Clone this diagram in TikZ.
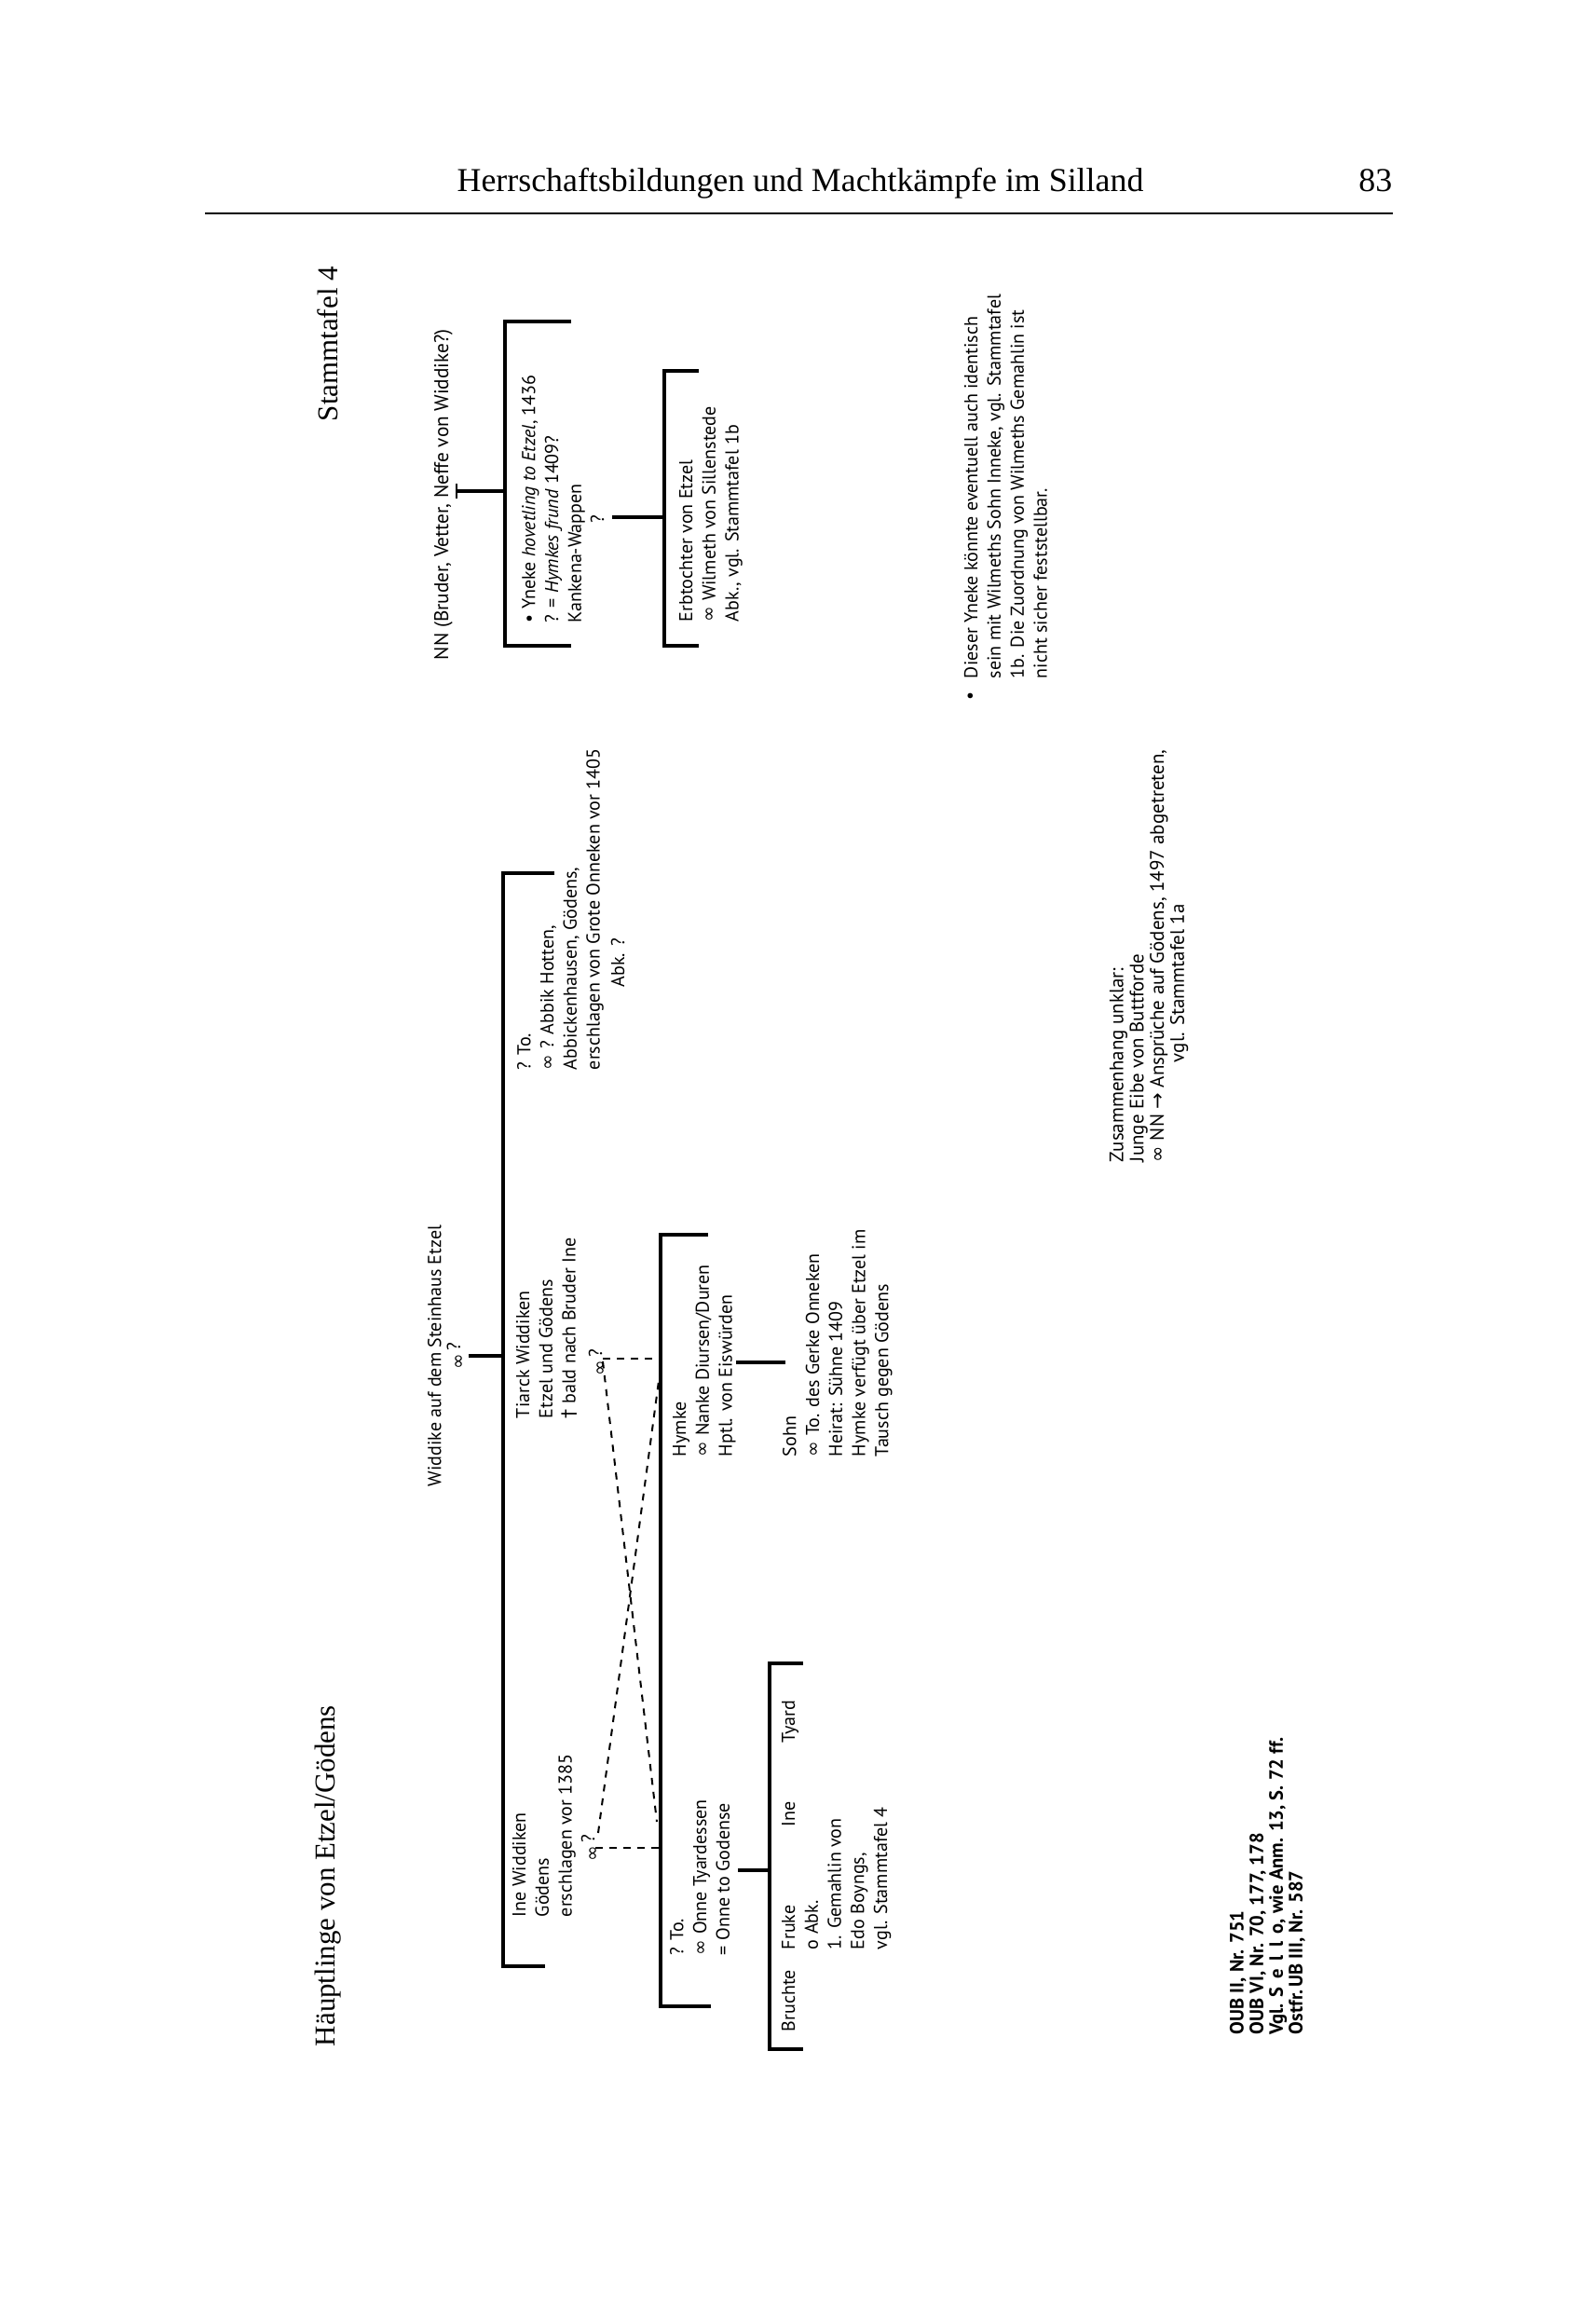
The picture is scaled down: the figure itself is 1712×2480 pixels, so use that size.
\documentclass[tikz,border=0pt]{standalone}
\usepackage{fontspec}
\setmainfont{Liberation Serif}
\newfontfamily\trf{PT Sans}
\newfontfamily\symf{DejaVu Sans}
\newcommand\xmar{{\symf ∞}}
\newcommand\xdg{{\symf †}}
\newcommand\xarr{{\symf →}}
\newcommand\tfont{\trf\fontsize{5.7}{7.05}\selectfont}
\newcommand\nfont{\trf\fontsize{6.05}{7}\selectfont}
\newcommand\zfont{\trf\fontsize{5.95}{6.2}\selectfont}
\newcommand\ofont{\trf\bfseries\fontsize{5.85}{6.0}\selectfont}
\newcommand\mq{\xmar\,\raisebox{1.2pt}{?}}
\newcommand\xsp{\hspace{0.42em}}
\begin{document}
\begin{tikzpicture}[x=0.1mm,y=-0.1mm,
  tx/.style={rotate=90,anchor=north west,align=left,inner sep=0pt,outer sep=0pt,font=\tfont},
  txc/.style={rotate=90,anchor=north,align=center,inner sep=0pt,outer sep=0pt,font=\tfont},
  sgl/.style={rotate=90,anchor=center,inner sep=0pt,outer sep=0pt,font=\tfont},
  ttl/.style={rotate=90,anchor=west,inner sep=0pt,outer sep=0pt,font=\fontsize{8.8}{10}\selectfont},
  ln/.style={line width=0.33mm},
  tick/.style={line width=0.25mm},
  dsh/.style={line width=0.2mm,dash pattern=on 0.75mm off 0.75mm}]
\fill[white] (0,0) rectangle (1712,2480);
\useasboundingbox (0,0) rectangle (1712,2480);

% header
\node[anchor=base,inner sep=0pt,font=\fontsize{10.2}{12}\selectfont] (hdr) at (859,205) {Herrschaftsbildungen und Machtkämpfe im Silland};
\node[anchor=base east,inner sep=0pt,font=\fontsize{10.2}{12}\selectfont] (pg) at (1495,205) {83};
\coordinate (rl) at (220,229); \coordinate (rr) at (1495,229);
\draw[line width=0.25mm] (rl) -- (rr);

% titles
\node[ttl] (st) at (352,452) {Stammtafel 4};
\node[ttl] (hg) at (352,2196) {Häuptlinge von Etzel/Gödens};

% ---- NN branch
\node[tx,font=\nfont] (nn) at (466,708) {NN (Bruder, Vetter, Neffe von Widdike?)};
\coordinate (nnS) at (490,527); \coordinate (b1m) at (542,527);
\coordinate (nnT1) at (490,519); \coordinate (nnT2) at (490,535);
\draw[ln] (nnS) -- (b1m);
\draw[tick] (nnT1) -- (nnT2);
\coordinate (b1a) at (613,345); \coordinate (b1b) at (542,345);
\coordinate (b1c) at (542,693); \coordinate (b1d) at (613,693);
\draw[ln] (b1a) -- (b1b) -- (b1c) -- (b1d);

\node[tx] (yn) at (560,668) {• Yneke \textit{hovetling to Etzel}, 1436\\? = \textit{Hymkes frund} 1409?\\Kankena-Wappen};
\node[sgl] (ynq) at (641,557) {?};
\coordinate (ynS) at (657,555); \coordinate (b2m) at (713,555);
\draw[ln] (ynS) -- (b2m);
\coordinate (b2a) at (750,398); \coordinate (b2b) at (713,398);
\coordinate (b2c) at (713,693); \coordinate (b2d) at (750,693);
\draw[ln] (b2a) -- (b2b) -- (b2c) -- (b2d);
\node[tx] (eb) at (729,667) {Erbtochter von Etzel\\\xmar\ Wilmeth von Sillenstede\\Abk., vgl. Stammtafel 1b};

% footnote
\node[sgl] (fnb) at (1043,747) {•};
\node[tx] (fn) at (1035,728) {Dieser Yneke könnte eventuell auch identisch\\sein mit Wilmeths Sohn Inneke, vgl. Stammtafel\\1b. Die Zuordnung von Wilmeths Gemahlin ist\\nicht sicher feststellbar.};

% ---- Widdike branch
\node[txc] (wd) at (459,1455) {Widdike auf dem Steinhaus Etzel\\\mq};
\coordinate (wdS) at (503,1455); \coordinate (b3m) at (540,1455);
\draw[ln] (wdS) -- (b3m);
\coordinate (b3a) at (595,937); \coordinate (b3b) at (540,937);
\coordinate (b3c) at (540,2110); \coordinate (b3d) at (585,2110);
\draw[ln] (b3a) -- (b3b) -- (b3c) -- (b3d);

\node[tx] (ab) at (555,1148) {? To.\\\xmar\ ? Abbik Hotten,\\Abbickenhausen, Gödens,\\erschlagen von Grote Onneken vor 1405};
\node[sgl] (abk) at (663,1033) {Abk. ?};

\node[tx] (ti) at (554,1522) {Tiarck Widdiken\\Etzel und Gödens\\\xdg\ bald nach Bruder Ine};
\node[sgl] (tim) at (641,1462) {\mq};

\node[tx] (iw) at (550,2057) {Ine Widdiken\\Gödens\\erschlagen vor 1385};
\node[sgl] (iwm) at (633,1983) {\mq};

% dashed alternatives
\coordinate (tq) at (647,1458); \coordinate (tq2) at (647,1461);
\coordinate (vh) at (708,1458); \coordinate (vx1) at (705,1955);
\coordinate (iq) at (639,1983); \coordinate (iq2) at (642,1967);
\coordinate (vo) at (708,1983); \coordinate (vx2) at (707,1482);
\draw[dsh] (tq) -- (vh);
\draw[dsh] (tq2) -- (vx1);
\draw[dsh] (iq) -- (vo);
\draw[dsh] (iq2) -- (vx2);

% Hymke / Onne bracket
\coordinate (b4a) at (760,1325); \coordinate (b4b) at (709,1325);
\coordinate (b4c) at (709,2153); \coordinate (b4d) at (763,2153);
\draw[ln] (b4a) -- (b4b) -- (b4c) -- (b4d);

\node[tx] (hy) at (722,1563) {Hymke\\\xmar\ Nanke Diursen/Duren\\Hptl. von Eiswürden};
\coordinate (hyS) at (790,1462); \coordinate (soE) at (843,1462);
\draw[ln] (hyS) -- (soE);
\node[tx] (so) at (840,1563) {Sohn\\\xmar\ To. des Gerke Onneken\\Heirat: Sühne 1409\\Hymke verfügt über Etzel im\\Tausch gegen Gödens};

\node[tx] (on) at (719,2098) {? To.\\\xmar\ Onne Tyardessen\\= Onne to Godense};
\coordinate (onS) at (792,2007); \coordinate (b5m) at (826,2007);
\draw[ln] (onS) -- (b5m);
\coordinate (b5a) at (862,1785); \coordinate (b5b) at (826,1785);
\coordinate (b5c) at (826,2199); \coordinate (b5d) at (862,2199);
\draw[ln] (b5a) -- (b5b) -- (b5c) -- (b5d);

\node[tx] (br) at (839,2180) {Bruchte};
\node[tx] (fr) at (839,2092) {Fruke\\o Abk.\\1. Gemahlin von\\Edo Boyngs,\\vgl. Stammtafel 4};
\node[tx] (in) at (839,1960) {Ine};
\node[tx] (ty) at (839,1870) {Tyard};

% Zusammenhang
\node[tx,font=\zfont] (zu) at (1191,1247) {Zusammenhang unklar:\\Junge Eibe von Buttforde\\\xmar\ NN \xarr\ Ansprüche auf Gödens, 1497 abgetreten,};
\node[tx,font=\zfont] (zv) at (1256,1140) {vgl. Stammtafel 1a};

% sources
\node[tx,font=\ofont] (ou) at (1320,2183) {OUB II, Nr. 751\\OUB VI, Nr. 70, 177, 178\\Vgl. S\xsp e\xsp l\xsp l\xsp o, wie Anm. 13, S. 72 ff.\\Ostfr.\,UB III, Nr. 587};
\end{tikzpicture}
\end{document}
